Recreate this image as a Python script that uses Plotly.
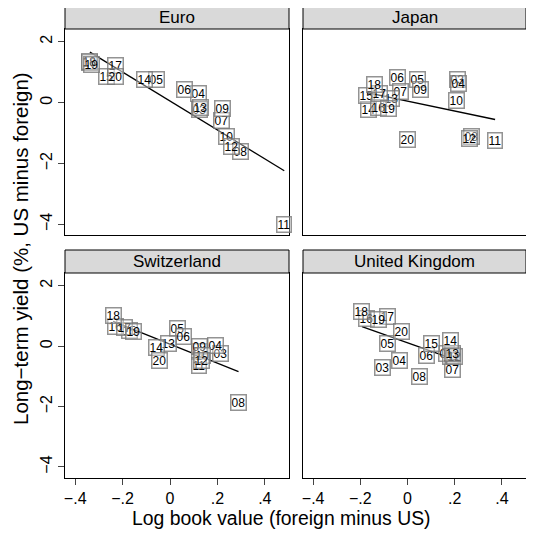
import numpy as np
import plotly.graph_objects as go

# ---------------- data ----------------
years = ["03", "04", "05", "06", "07", "08", "09", "10", "11", "12",
         "13", "14", "15", "16", "17", "18", "19", "20"]

panels = ["Euro", "Japan", "Switzerland", "United Kingdom"]

euro_x = [0.123, 0.120, -0.056, 0.063, 0.218, 0.296, 0.223, 0.240, 0.482, 0.261,
          0.130, -0.106, -0.270, -0.338, -0.232, -0.338, -0.330, -0.232]
euro_y = [-0.22, 0.29, 0.77, 0.42, -0.59, -1.61, -0.18, -1.10, -4.00, -1.45,
          -0.17, 0.77, 0.85, 1.31, 1.21, 1.34, 1.24, 0.85]

japan_x = [0.213, 0.215, 0.042, -0.042, -0.031, 0.269, 0.057, 0.206, 0.371, 0.261,
           -0.066, -0.165, -0.172, -0.123, -0.120, -0.139, -0.080, 0.000]
japan_y = [0.75, 0.62, 0.75, 0.82, 0.36, -1.10, 0.42, 0.06, -1.23, -1.17,
           0.15, -0.24, 0.25, -0.15, 0.30, 0.58, -0.18, -1.21]

swiss_x = [0.211, 0.190, 0.031, 0.059, 0.124, 0.289, 0.124, 0.135, 0.124, 0.134,
           -0.007, -0.056, -0.169, -0.228, -0.194, -0.240, -0.152, -0.046]
swiss_y = [-0.24, 0.03, 0.58, 0.31, -0.19, -1.87, 0.00, -0.30, -0.63, -0.46,
           0.07, -0.04, 0.53, 0.66, 0.63, 1.02, 0.49, -0.46]

uk_x = [-0.106, -0.034, -0.087, 0.079, 0.192, 0.049, 0.163, 0.180, 0.193, 0.201,
        0.189, 0.180, 0.103, -0.175, -0.087, -0.193, -0.123, -0.027]
uk_y = [-0.70, -0.48, 0.07, -0.30, -0.76, -1.01, -0.26, -0.33, -0.30, -0.36,
        -0.23, 0.17, 0.09, 0.91, 0.97, 1.16, 0.88, 0.47]

series = [(euro_x, euro_y), (japan_x, japan_y), (swiss_x, swiss_y), (uk_x, uk_y)]

x_ticks = [-0.4, -0.2, 0, 0.2, 0.4]
x_ticktext = ["\u2212.4", "\u2212.2", "0", ".2", ".4"]
y_ticks = [-4, -2, 0, 2]
y_ticktext = ["\u22124", "\u22122", "0", "2"]

# ---------------- layout geometry ----------------
OFF = 8          # default page body margin
W = H = 534 - OFF
FONT = "Liberation Sans, Arial, Helvetica, sans-serif"

def px_x(p):
    return (p - OFF) / W

def px_y(p):
    return 1 - (p - OFF) / H

x_domains = [(px_x(65), px_x(289)), (px_x(303), px_x(526))]
y_domains = [(px_y(235), px_y(29)), (px_y(477.5), px_y(273))]
strip_h = 23  # px

xr = [-0.443, 0.502]
yr = [-4.35, 2.42]

fig = go.Figure()
layout = dict(
    width=W, height=H,
    margin=dict(l=0, r=0, t=0, b=0),
    paper_bgcolor="white", plot_bgcolor="white",
    showlegend=False,
    font=dict(family=FONT, color="black"),
)

shapes = []
annotations = []

for i, name in enumerate(panels):
    row, col = divmod(i, 2)
    k = i + 1
    xa = "xaxis" if k == 1 else f"xaxis{k}"
    ya = "yaxis" if k == 1 else f"yaxis{k}"
    xref = "x" if k == 1 else f"x{k}"
    yref = "y" if k == 1 else f"y{k}"
    bottom = row == 1
    left = col == 0
    layout[xa] = dict(
        domain=list(x_domains[col]), anchor=yref, range=xr,
        showgrid=False, zeroline=False,
        showline=True, mirror=True, linecolor="black", linewidth=1,
        tickmode="array", tickvals=x_ticks, ticktext=x_ticktext,
        ticks="outside" if bottom else "", ticklen=6, tickcolor="#444",
        showticklabels=bottom, tickfont=dict(size=16, family=FONT),
    )
    layout[ya] = dict(
        domain=list(y_domains[row]), anchor=xref, range=yr,
        showgrid=False, zeroline=False,
        showline=True, mirror=True, linecolor="black", linewidth=1,
        tickmode="array", tickvals=y_ticks, ticktext=y_ticktext,
        ticks="outside" if left else "", ticklen=6, tickcolor="#444",
        showticklabels=left, tickangle=-90, tickfont=dict(size=16, family=FONT),
    )

    xs, ys = series[i]
    xs_a = np.array(xs)
    ys_a = np.array(ys)
    slope, intercept = np.polyfit(xs_a, ys_a, 1)
    lx = np.array([xs_a.min(), xs_a.max()])
    fig.add_trace(go.Scatter(x=lx, y=intercept + slope * lx, mode="lines",
                             line=dict(color="black", width=1.3),
                             xaxis=xref, yaxis=yref, hoverinfo="skip"))
    fig.add_trace(go.Scatter(x=xs, y=ys, mode="markers",
                             marker=dict(size=1, color="rgba(0,0,0,0)"),
                             xaxis=xref, yaxis=yref, hoverinfo="skip"))
    for yr_lab, xv, yv in zip(years, xs, ys):
        annotations.append(dict(
            x=xv, y=yv, xref=xref, yref=yref, text=yr_lab, showarrow=False,
            font=dict(size=12, family=FONT, color="black"),
            bordercolor="rgba(120,120,120,0.8)", borderwidth=1.5, borderpad=0,
            bgcolor="rgba(255,255,255,0.35)",
        ))

    # strip
    x0, x1 = x_domains[col]
    ytop = y_domains[row][1]
    shapes.append(dict(type="rect", xref="paper", yref="paper",
                       x0=x0, x1=x1, y0=ytop, y1=ytop + strip_h / H,
                       fillcolor="#d9d9d9", line=dict(color="black", width=1)))
    annotations.append(dict(x=(x0 + x1) / 2, y=ytop + strip_h / 2 / H,
                            xref="paper", yref="paper", text=name, showarrow=False,
                            font=dict(size=17, family=FONT, color="black"),
                            xanchor="center", yanchor="middle"))

annotations.append(dict(x=px_x(281), y=px_y(518), xref="paper", yref="paper",
                        text="Log book value (foreign minus US)", showarrow=False,
                        font=dict(size=19.4, family=FONT), xanchor="center", yanchor="middle"))
annotations.append(dict(x=px_x(20), y=px_y(249), xref="paper", yref="paper",
                        text="Long\u2212term yield (%, US minus foreign)", showarrow=False,
                        textangle=-90,
                        font=dict(size=20.5, family=FONT), xanchor="center", yanchor="middle"))

layout["shapes"] = shapes
layout["annotations"] = annotations
fig.update_layout(**layout)
fig.write_html("out.html")
